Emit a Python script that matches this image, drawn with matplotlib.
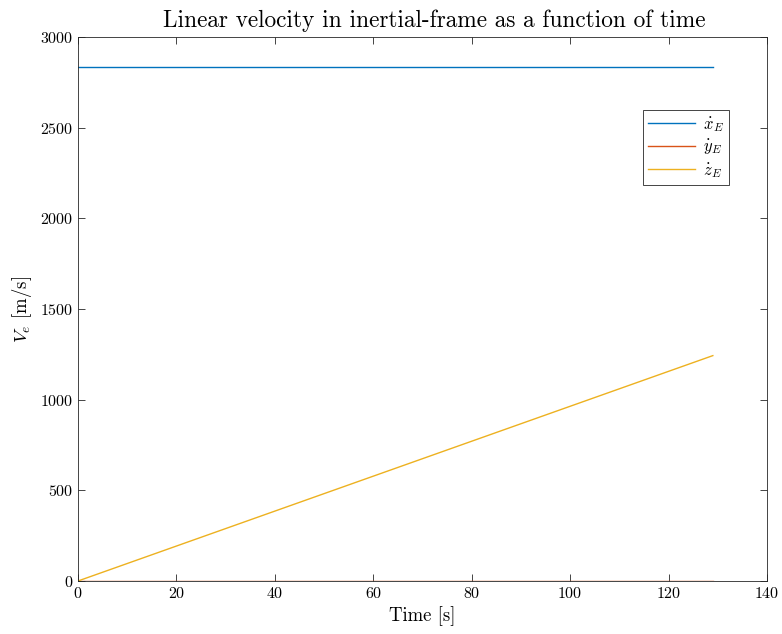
import matplotlib
matplotlib.use('Agg')
import matplotlib.pyplot as plt

# simulation time and inertial-frame velocity components
t = [0, 129]
x_dot = [2832, 2832]
y_dot = [0, 0]
z_dot = [0, 1243]

plt.rcParams['font.family'] = 'serif'
plt.rcParams['font.serif'] = ['cmr10']
plt.rcParams['mathtext.fontset'] = 'cm'
plt.rcParams['axes.formatter.use_mathtext'] = True

fig = plt.figure(figsize=(7.82, 6.34), dpi=100)
ax = fig.add_axes([0.0997, 0.0836, 0.8811, 0.858])

ax.plot(t, x_dot, color='#0072BD', lw=1.0, label=r'$\dot{x}_E$')
ax.plot(t, y_dot, color='#D95319', lw=1.0, label=r'$\dot{y}_E$')
ax.plot(t, z_dot, color='#EDB120', lw=1.0, label=r'$\dot{z}_E$')

ax.set_xlim(0, 140)
ax.set_ylim(0, 3000)
ax.set_xticks(range(0, 141, 20))
ax.set_yticks(range(0, 3001, 500))
ax.tick_params(direction='in', top=True, right=True, length=5, width=0.6,
               colors='#262626', labelsize=11.5, labelcolor='black')
for s in ax.spines.values():
    s.set_linewidth(0.6)
    s.set_color('#262626')

ax.set_title('Linear velocity in inertial-frame as a function of time',
             fontsize=16.8, pad=7, x=0.517)
ax.set_xlabel('Time [s]', fontsize=13.5)
ax.set_ylabel(r'$V_e$ [m/s]', fontsize=13.5)

leg = ax.legend(loc='upper right', bbox_to_anchor=(0.945, 0.866), fontsize=12,
                fancybox=False, framealpha=1, edgecolor='#262626',
                handlelength=2.8, handletextpad=0.5, borderaxespad=0,
                borderpad=0.3, labelspacing=0.25)
leg.get_frame().set_linewidth(0.6)

fig.savefig('out.png', dpi=100)
